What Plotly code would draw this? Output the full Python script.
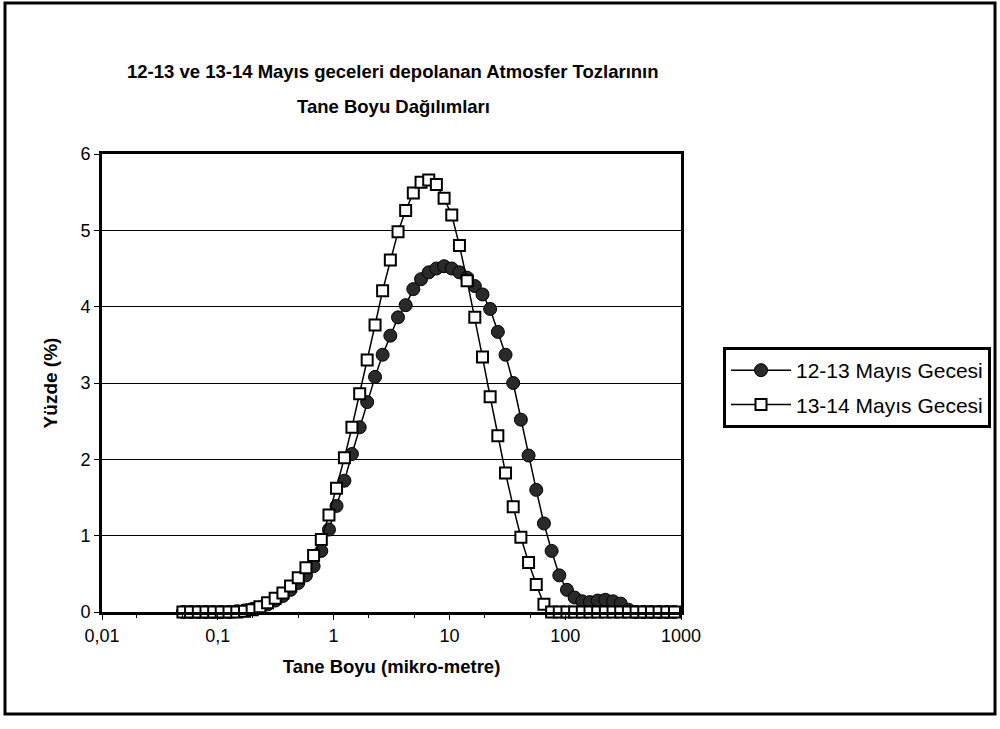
import plotly.graph_objects as go

# Particle size classes (micro-metre)
sizes = [0.05, 0.0582, 0.0679, 0.0791, 0.0921, 0.107, 0.125, 0.146, 0.170, 0.198,
         0.231, 0.269, 0.313, 0.365, 0.425, 0.495, 0.577, 0.672, 0.783, 0.912,
         1.06, 1.24, 1.44, 1.68, 1.95, 2.28, 2.65, 3.09, 3.60, 4.19,
         4.88, 5.69, 6.63, 7.72, 9.00, 10.48, 12.21, 14.22, 16.57, 19.31,
         22.49, 26.20, 30.53, 35.56, 41.43, 48.27, 56.23, 65.51, 76.32, 88.91,
         103.58, 120.67, 140.58, 163.77, 190.80, 222.28, 258.95, 301.68, 351.46, 409.45,
         477.01, 555.71, 647.41, 754.23, 878.67]

# 12-13 Mayis Gecesi (%)
night_12_13 = [0, 0, 0, 0, 0, 0, 0, 0.01, 0.02, 0.04,
               0.06, 0.10, 0.15, 0.21, 0.29, 0.38, 0.48, 0.60, 0.80, 1.08,
               1.39, 1.72, 2.07, 2.42, 2.75, 3.08, 3.37, 3.62, 3.86, 4.02,
               4.23, 4.36, 4.45, 4.50, 4.53, 4.50, 4.45, 4.38, 4.27, 4.16,
               3.97, 3.67, 3.37, 3.00, 2.52, 2.05, 1.60, 1.16, 0.80, 0.48,
               0.29, 0.19, 0.14, 0.13, 0.15, 0.16, 0.14, 0.11, 0.03, 0,
               0, 0, 0, 0, 0]

# 13-14 Mayis Gecesi (%)
night_13_14 = [0, 0, 0, 0, 0, 0, 0, 0, 0.01, 0.03,
               0.07, 0.12, 0.18, 0.25, 0.34, 0.45, 0.58, 0.74, 0.95, 1.27,
               1.62, 2.02, 2.42, 2.86, 3.30, 3.76, 4.21, 4.61, 4.98, 5.26,
               5.49, 5.63, 5.66, 5.60, 5.42, 5.20, 4.80, 4.34, 3.86, 3.34,
               2.82, 2.31, 1.82, 1.38, 0.98, 0.65, 0.36, 0.10, 0, 0,
               0, 0, 0, 0, 0, 0, 0, 0, 0, 0,
               0, 0, 0, 0, 0]

x_tickvals = [0.01, 0.1, 1, 10, 100, 1000]
x_ticktext = ["0,01", "0,1", "1", "10", "100", "1000"]
y_tickvals = [0, 1, 2, 3, 4, 5, 6]

FONT = "Liberation Sans, Arial, sans-serif"

fig = go.Figure()
fig.add_trace(go.Scatter(
    x=sizes, y=night_12_13, mode="lines+markers", name="12-13 Mayıs Gecesi",
    legendgroup="a",
    line=dict(color="black", width=1.5),
    marker=dict(symbol="circle", size=13, color="#2a2a2a",
                line=dict(color="black", width=1)),
    cliponaxis=False))
fig.add_trace(go.Scatter(
    x=sizes, y=night_13_14, mode="lines+markers", name="13-14 Mayıs Gecesi",
    legendgroup="b",
    line=dict(color="black", width=1.5),
    marker=dict(symbol="square", size=11, color="white",
                line=dict(color="black", width=2)),
    cliponaxis=False))

L, R, T, B = 102, 1000 - 681, 154, 729 - 612
W, H = 1000 - L - R, 729 - T - B


def px(xp):
    return (xp - L) / W


def py(yp):
    return (729 - B - yp) / H


fig.update_layout(
    width=1000, height=729,
    margin=dict(l=L, r=R, t=T, b=B, autoexpand=False),
    paper_bgcolor="white", plot_bgcolor="white",
    font=dict(family=FONT, color="black"),
    showlegend=True,
    legend=dict(x=px(723), y=py(347), xanchor="left", yanchor="top",
                bordercolor="black", borderwidth=3, bgcolor="white",
                font=dict(size=21, family=FONT), itemwidth=60,
                traceorder="grouped", tracegroupgap=4),
    xaxis=dict(type="log", range=[-2, 3], tickvals=x_tickvals, ticktext=x_ticktext,
               showgrid=False, zeroline=False,
               showline=True, linecolor="black", linewidth=3, mirror=True,
               ticks="outside", ticklen=5, tickcolor="black",
               tickfont=dict(size=18),
               minor=dict(ticks="outside", ticklen=3, tickcolor="black", showgrid=False),
               title=dict(text="<b>Tane Boyu (mikro-metre)</b>", font=dict(size=18.5),
                          standoff=16)),
    yaxis=dict(range=[0, 6], tickvals=y_tickvals, showgrid=True, gridcolor="black",
               gridwidth=1, zeroline=False,
               showline=True, linecolor="black", linewidth=3, mirror=True,
               ticks="outside", ticklen=5, tickcolor="black",
               tickfont=dict(size=18),
               title=dict(text="<b>Yüzde (%)</b>", font=dict(size=19), standoff=18)),
    shapes=[dict(type="rect", xref="paper", yref="paper",
                 x0=px(5), x1=px(995), y0=py(714), y1=py(3),
                 line=dict(color="black", width=3), layer="below")],
    annotations=[
        dict(text="<b>12-13 ve 13-14 Mayıs geceleri depolanan Atmosfer Tozlarının</b>",
             xref="paper", yref="paper", x=px(393), y=py(72), xanchor="center",
             yanchor="middle", showarrow=False, font=dict(size=18.5, family=FONT)),
        dict(text="<b>Tane Boyu Dağılımları</b>",
             xref="paper", yref="paper", x=px(393), y=py(106), xanchor="center",
             yanchor="middle", showarrow=False, font=dict(size=18.5, family=FONT)),
    ],
)

fig.write_html("out.html", config={"displayModeBar": False},
               post_script="document.body.style.margin='0px';document.body.style.overflow='hidden';")
